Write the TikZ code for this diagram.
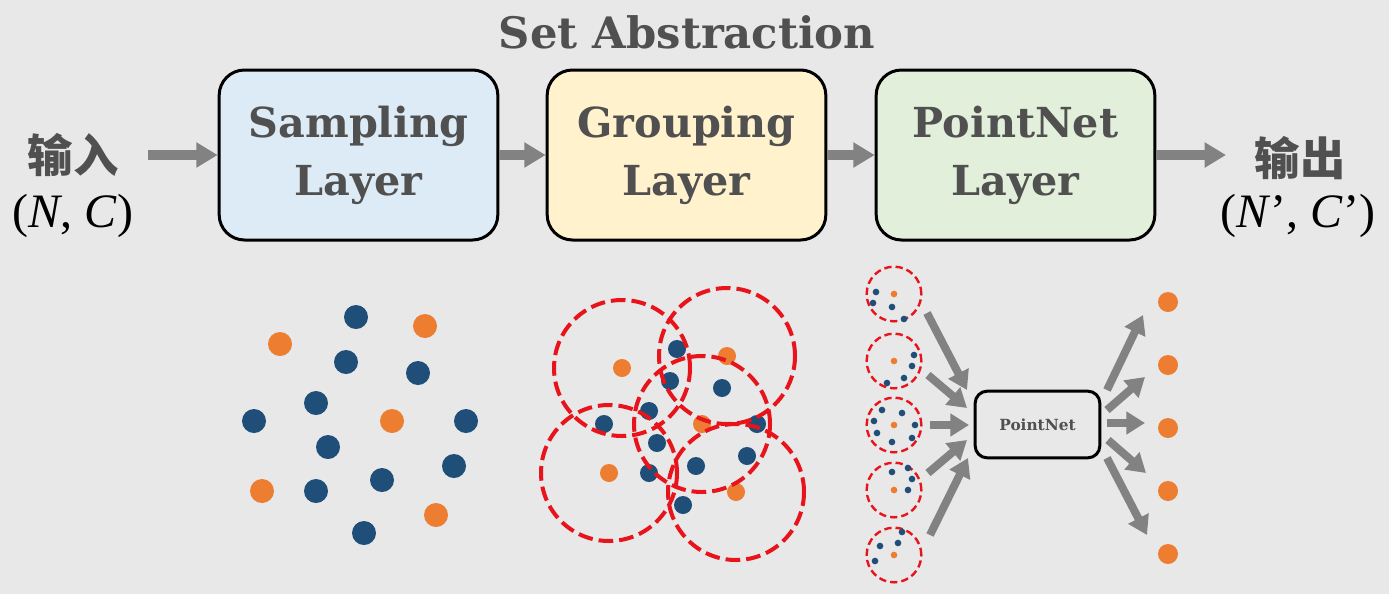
\documentclass[tikz,border=0pt]{standalone}
\usepackage{fontspec}
\setmainfont{DejaVu Serif}
\newfontfamily\cjk{Noto Sans CJK SC}
\newfontfamily\tms{Liberation Serif}
\usetikzlibrary{arrows.meta,calc}
\definecolor{bg}{HTML}{E8E8E8}
\definecolor{txt}{HTML}{505050}
\definecolor{sampfill}{HTML}{DDEBF7}
\definecolor{grpfill}{HTML}{FFF2CC}
\definecolor{pnfill}{HTML}{E2EFDA}
\definecolor{dblue}{HTML}{1F4E79}
\definecolor{dorange}{HTML}{ED7D31}
\definecolor{dred}{HTML}{E8141B}
\definecolor{agray}{HTML}{828282}
\tikzset{
  layerbox/.style={draw=black, line width=2.25pt, rounded corners=19pt,
    minimum width=209pt, minimum height=127.5pt, align=center,
    text=txt, font=\fontsize{31}{43.5}\selectfont\bfseries},
  bigarrow/.style={draw=agray, line width=7pt,
    -{Triangle[width=18pt,length=16pt]}},
  smallarrow/.style={draw=agray, line width=6pt,
    -{Triangle[width=16.5pt,length=14pt]}},
  bdot/.style={circle, fill=dblue, inner sep=0pt, minimum size=18pt},
  odot/.style={circle, fill=dorange, inner sep=0pt, minimum size=18pt},
  gbdot/.style={circle, fill=dblue, inner sep=0pt, minimum size=13.5pt},
  godot/.style={circle, fill=dorange, inner sep=0pt, minimum size=13.5pt},
  sbdot/.style={circle, fill=dblue, inner sep=0pt, minimum size=5pt},
  sodot/.style={circle, fill=dorange, inner sep=0pt, minimum size=5pt},
  ball/.style={circle, draw=dred, line width=3pt, dash pattern=on 11pt off 4.5pt,
    inner sep=0pt, minimum size=102pt},
  sball/.style={circle, draw=dred, line width=1.8pt, dash pattern=on 5.5pt off 3pt,
    inner sep=0pt, minimum size=41pt},
  cjklabel/.style={text=txt, font=\cjk\bfseries\fontsize{34}{40}\selectfont},
  shapelabel/.style={text=black, font=\tms\fontsize{36}{40}\selectfont},
}
\begin{document}
\begin{tikzpicture}[x=0.75pt,y=-0.75pt]
\useasboundingbox[fill=bg] (0,0) rectangle (1389,594);

% title
\node[text=txt, font=\fontsize{32.5}{38}\selectfont\bfseries] (title) at (687,32) {Set Abstraction};

% layer boxes
\node[layerbox, fill=sampfill] (samp) at (358.5,155) {Sampling\\Layer};
\node[layerbox, fill=grpfill] (grp) at (686.5,155) {Grouping\\Layer};
\node[layerbox, fill=pnfill] (pn) at (1015.5,155) {PointNet\\Layer};

% input / output labels
\node[cjklabel] (inlab) at (73,155) {输入};
\node[shapelabel] (inshape) at (73,216) {(\textit{N}, \textit{C})};
\node[cjklabel] (outlab) at (1300,158) {输出};
\node[shapelabel] (outshape) at (1298,216) {(\textit{N}’, \textit{C}’)};

% main arrows
\coordinate (inStart) at (148,155);
\coordinate (outEnd) at (1226,155);
\draw[bigarrow] (inStart) -- (samp.west);
\draw[bigarrow] (samp.east) -- (grp.west);
\draw[bigarrow] (grp.east) -- (pn.west);
\draw[bigarrow] (pn.east) -- (outEnd);

% sampling point cloud
\foreach \x/\y [count=\i] in {356/317,346/362,418/373,316/403,254/421,466/421,328/447,454/466,382/480,316/491,364/533}
  \node[bdot] (sb\i) at (\x,\y) {};
\foreach \x/\y [count=\i] in {425/326,280/344,392/421,262/491,436/515}
  \node[odot] (so\i) at (\x,\y) {};

% grouping
\foreach \x/\y [count=\i] in {677/349,670/381,722/388,649/411,604/424,757/424,657/443,747/456,696/466,649/473,683/505}
  \node[gbdot] (gb\i) at (\x,\y) {};
\foreach \x/\y [count=\i] in {622/368,727/356,702/424,609/473,736/492}
  \node[godot] (gc\i) at (\x,\y) {};
\foreach \i in {1,...,5}
  \node[ball] (gr\i) at (gc\i) {};

% pointnet panel: local regions
\foreach \y [count=\i] in {294,361,425,490,555} {
  \node[sball] (lr\i) at (894,\y) {};
  \node[sodot] (lc\i) at (894,\y) {};
}
\foreach \dx/\dy in {-18/-2,-21/9,-2/13,10/25}
  \node[sbdot] at ($(lc1)+(\dx,\dy)$) {};
\foreach \dx/\dy in {20/-6,18/5,10/17,-7/22}
  \node[sbdot] at ($(lc2)+(\dx,\dy)$) {};
\foreach \dx/\dy in {-12/-15,8/-12,-20/-4,21/0,-17/8,18/13,-2/17}
  \node[sbdot] at ($(lc3)+(\dx,\dy)$) {};
\foreach \dx/\dy in {-2/-18,14/-22,18/-11,14/0}
  \node[sbdot] at ($(lc4)+(\dx,\dy)$) {};
\foreach \dx/\dy in {8/-23,4/-12,-14/-9,-19/6}
  \node[sbdot] at ($(lc5)+(\dx,\dy)$) {};

% pointnet box
\node[draw=black, line width=2.25pt, rounded corners=9pt, minimum width=93.5pt,
  minimum height=50pt, text=txt, font=\fontsize{11.5}{13}\selectfont\bfseries] (pnet) at (1037.5,424.5) {PointNet};

% input arrows
\foreach \sx/\sy/\ex/\ey [count=\i] in {927/313/967/390, 928/375/967/408, 930/425/969/425, 928/473/967/440, 930/535/968/458} {
  \coordinate (ia\i) at (\sx,\sy);
  \coordinate (ib\i) at (\ex,\ey);
  \draw[smallarrow] (ia\i) -- (ib\i);
}

% output points
\foreach \y [count=\i] in {302,365,428,491,554}
  \node[circle, fill=dorange, inner sep=0pt, minimum size=15pt] (op\i) at (1168,\y) {};

% output arrows
\foreach \sx/\sy/\ex/\ey [count=\i] in {1107/390/1143/315, 1107/410/1145/377, 1107/423/1145/423, 1108/440/1146/473, 1107/458/1147/535} {
  \coordinate (oa\i) at (\sx,\sy);
  \coordinate (ob\i) at (\ex,\ey);
  \draw[smallarrow] (oa\i) -- (ob\i);
}
\end{tikzpicture}
\end{document}
